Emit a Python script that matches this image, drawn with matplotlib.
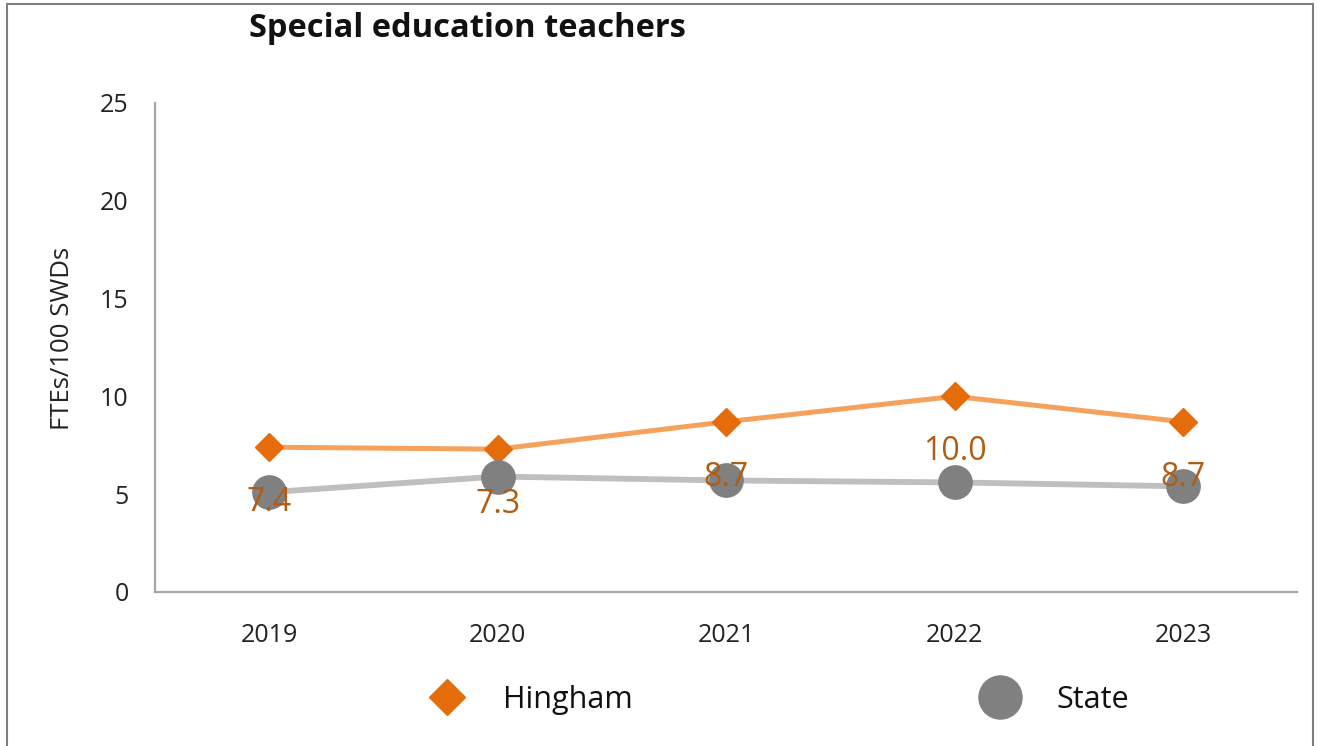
import matplotlib
matplotlib.use("Agg")
import matplotlib.pyplot as plt
from matplotlib.lines import Line2D

plt.rcParams['font.family'] = ['Open Sans', 'DejaVu Sans']

years = ['2019', '2020', '2021', '2022', '2023']
hingham = [7.4, 7.3, 8.7, 10.0, 8.7]
state = [5.1, 5.9, 5.7, 5.6, 5.4]
y_ticks = [0, 5, 10, 15, 20, 25]

orange_line = '#f5a25c'
orange_mark = '#e46c0a'
label_col = '#b05c12'
gray_line = '#bfbfbf'
gray_mark = '#808080'

fig = plt.figure(figsize=(13.17, 7.46), dpi=100)
ax = fig.add_axes([0.1177, 0.2065, 0.8673, 0.6555])

x = list(range(len(years)))
ax.plot(x, hingham, color=orange_line, lw=3.6, zorder=2)
ax.plot(x, hingham, ls='none', marker='D', ms=14.5, color=orange_mark, zorder=3)
ax.plot(x, state, color=gray_line, lw=4.2, zorder=4)
ax.plot(x, state, ls='none', marker='o', ms=24, color=gray_mark, zorder=5)

for xi, v in zip(x, hingham):
    ax.annotate(f'{v:.1f}', (xi, v), xytext=(0, -40), textcoords='offset points',
                ha='center', va='center', fontsize=23, color=label_col, zorder=6)

ax.set_xlim(-0.5, 4.5)
ax.set_ylim(0, 25)
ax.set_yticks(y_ticks)
ax.set_xticks(x)
ax.set_xticklabels(years)
ax.tick_params(axis='both', length=0, labelsize=18, colors='#222222')
ax.tick_params(axis='y', pad=19)
ax.tick_params(axis='x', pad=22)

for s in ['top', 'right']:
    ax.spines[s].set_visible(False)
for s in ['left', 'bottom']:
    ax.spines[s].set_color('#a6a6a6')
    ax.spines[s].set_linewidth(1.6)

ax.set_ylabel('FTEs/100 SWDs', fontsize=18.5, color='#222222')
ax.yaxis.set_label_coords(-0.07, 0.518)

fig.text(0.355, 0.962, 'Special education teachers', ha='center', va='center',
         fontsize=23.5, fontweight='bold', color='#111111')

handles = [
    Line2D([], [], ls='none', marker='D', ms=18, color=orange_mark),
    Line2D([], [], ls='none', marker='o', ms=31, color=gray_mark),
]
fig.legend(handles, ['Hingham', 'State'], ncol=2, loc='center left',
           bbox_to_anchor=(0.316, 0.0617), frameon=False, fontsize=22,
           handlelength=2, handletextpad=0.85, columnspacing=11.0,
           borderpad=0, borderaxespad=0, labelcolor='#111111')

# outer frame
frame = plt.Rectangle((0.005, -0.01), 0.992, 1.005, transform=fig.transFigure,
                      fill=False, edgecolor='#7f7f7f', lw=1.5)
fig.patches.append(frame)

fig.savefig('out.png', dpi=100)
